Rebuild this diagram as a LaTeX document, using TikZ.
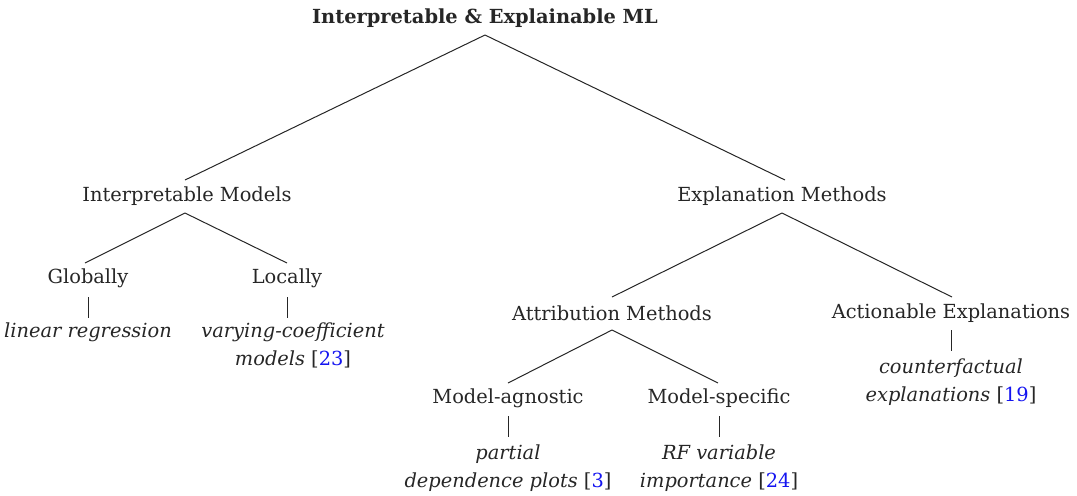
\documentclass[tikz,border=0pt]{standalone}
\usepackage{fontspec}
\setmainfont{DejaVu Serif}
\definecolor{citeblue}{RGB}{20,20,240}
\newcommand{\cit}[1]{{\upshape[\textcolor{citeblue}{#1}]}}
\begin{document}
\begin{tikzpicture}[x=0.5pt,y=-0.5pt,
  lbl/.style={font=\fontsize{9.7}{14}\selectfont, inner sep=0pt, align=center, text=black!85},
  leaf/.style={lbl, font=\fontsize{9.7}{14}\selectfont\itshape},
  edge/.style={draw=black!85, line width=0.5pt}]
\useasboundingbox (0,0) rectangle (1077,495);
\node[lbl, font=\fontsize{9.7}{14}\selectfont\bfseries] (root) at (485,18) {Interpretable \& Explainable ML};
\node[lbl] (im) at (187,196) {Interpretable Models};
\node[lbl] (em) at (782,196) {Explanation Methods};
\node[lbl] (gl) at (88,278) {Globally};
\node[lbl] (lo) at (287,278) {Locally};
\node[leaf] (lr) at (88,332) {linear regression};
\node[leaf, anchor=north] (vc) at (293,322) {varying-coefficient\\models \cit{23}};
\node[lbl] (am) at (612,313) {Attribution Methods};
\node[lbl] (ae) at (951,313) {Actionable Explanations};
\node[leaf, anchor=north] (cf) at (951,358) {counterfactual\\explanations \cit{19}};
\node[lbl] (ma) at (508,398) {Model-agnostic};
\node[lbl] (ms) at (719,398) {Model-specific};
\node[leaf, anchor=north] (pd) at (508,444) {partial\\dependence plots \cit{3}};
\node[leaf, anchor=north] (rf) at (719,444) {RF variable\\importance \cit{24}};
\coordinate (r0) at (485,35);
\coordinate (im0) at (185,213);
\coordinate (em0) at (782,213);
\coordinate (am0) at (612,330);
\draw[edge] (r0) -- (185,180) (r0) -- (785,180);
\draw[edge] (im0) -- (85,263) (im0) -- (287,263);
\draw[edge] (em0) -- (612,297) (em0) -- (952,297);
\draw[edge] (am0) -- (508,383) (am0) -- (718,383);
\draw[edge] (88,297) -- (88,318);
\draw[edge] (287,297) -- (287,318);
\draw[edge] (951,330) -- (951,351);
\draw[edge] (508,416) -- (508,437);
\draw[edge] (719,416) -- (719,437);
\end{tikzpicture}
\end{document}
